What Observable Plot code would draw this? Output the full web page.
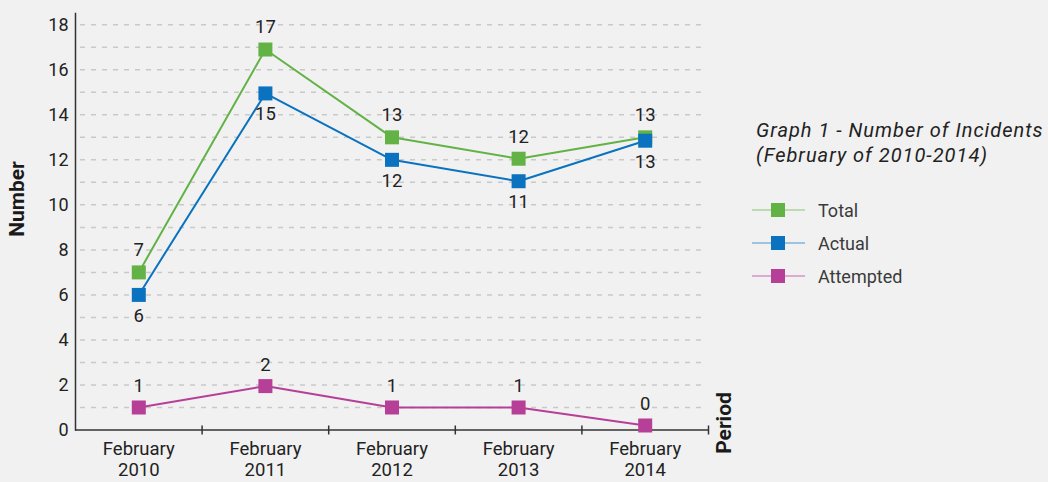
<!DOCTYPE html>
<html><head><meta charset="utf-8">
<script src="https://cdn.jsdelivr.net/npm/d3@7"></script>
<script src="https://cdn.jsdelivr.net/npm/@observablehq/plot@0.6"></script>
<style>
body{margin:0;background:#f1f1f1;font-family:Roboto,"Noto Sans",sans-serif;}
#wrap{position:relative;width:1048px;height:482px;overflow:hidden;background:#f1f1f1;}
#chart{position:absolute;left:0;top:0;}
#title{position:absolute;left:756px;top:118px;font-size:20px;font-style:italic;line-height:25px;color:#222;white-space:nowrap;letter-spacing:1px;}
#legend{position:absolute;left:752px;top:193.5px;}
.row{display:flex;align-items:center;height:33px;font-size:18px;color:#3a3a3a;}
.row svg{margin-right:13px;}
.axt{position:absolute;font-weight:bold;font-size:21px;color:#1a1a1a;white-space:nowrap;transform:translate(-50%,-50%) rotate(-90deg);}
</style></head><body>
<div id="wrap">
<div id="chart"></div>
<div id="title">Graph 1 - Number of Incidents<br>(February of 2010-2014)</div>
<div id="legend"></div>
<div class="axt" style="left:16.5px;top:198.5px;">Number</div>
<div class="axt" style="left:724px;top:422.5px;">Period</div>
</div>
<script>
// ---- data ----
const periods = ["February 2010", "February 2011", "February 2012", "February 2013", "February 2014"];
const seriesNames = ["Total", "Actual", "Attempted"];
const total = [7, 16.9, 13, 12.05, 13];
const actual = [6, 14.95, 12, 11.05, 12.85];
const attempted = [1, 1.95, 1, 1, 0.2];
const yTicks = [0, 2, 4, 6, 8, 10, 12, 14, 16, 18];
const gridValues = [1, 2, 3, 4, 5, 6, 7, 8, 9, 10, 11, 12, 13, 14, 15, 16, 17, 18];

const colors = {Total: "#62b246", Actual: "#0a72bf", Attempted: "#b63f98"};
const legendLine = {Total: "#86c873", Actual: "#4a95d0", Attempted: "#c868ae"};
const series = [
  {name: "Total", values: total, labelDy: -22},
  {name: "Actual", values: actual, labelDy: 21},
  {name: "Attempted", values: attempted, labelDy: -21}
];

const idx = (d, i) => i;
const bounds = periods.map((p, i) => i + 0.5);

const lineMarks = series.map(s => Plot.line(s.values, {x: idx, y: d => d, stroke: colors[s.name], strokeWidth: 2}));
const dotMarks = series.map(s => Plot.dot(s.values, {x: idx, y: d => d, symbol: "square", r: 7.9, fill: colors[s.name]}));
const textMarks = series.map(s => Plot.text(s.values, {x: idx, y: d => d, text: d => String(Math.round(d)), dy: s.labelDy, fontSize: 18.5, fill: "#222"}));

const chart = Plot.plot({
  width: 1048,
  height: 482,
  marginLeft: 75,
  marginRight: 340,
  marginTop: 13,
  marginBottom: 52.5,
  style: {background: "transparent", fontFamily: "Roboto, 'Noto Sans', sans-serif", color: "#222", overflow: "visible"},
  x: {domain: [-0.5, periods.length - 0.5]},
  y: {domain: [0, 18.5]},
  marks: [
    Plot.ruleY(gridValues, {stroke: "#c9c9c9", strokeWidth: 1.5, strokeDasharray: "5,6", insetLeft: 5, insetRight: 5}),
    Plot.frame({anchor: "left", stroke: "#333", strokeWidth: 1.5}),
    Plot.ruleY([0], {stroke: "#333", strokeWidth: 1.5}),
    Plot.ruleX(bounds, {x: d => d, y1: 0, y2: 0, insetTop: -4, insetBottom: -5, stroke: "#333", strokeWidth: 1.5}),
    Plot.axisY(yTicks, {tickSize: 0, tickPadding: 7, fontSize: 18, label: null, fill: "#222"}),
    Plot.axisX(periods.map(idx), {tickSize: 0, tickPadding: 10, fontSize: 18.5, lineHeight: 1.15, label: null, fill: "#222",
      tickFormat: i => periods[i].replace(" ", "\n")}),
    ...lineMarks,
    ...dotMarks,
    ...textMarks
  ]
});
document.getElementById("chart").append(chart);

const legend = document.getElementById("legend");
seriesNames.forEach(n => {
  const row = document.createElement("div");
  row.className = "row";
  row.innerHTML = `<svg width="53" height="14"><line x1="0" x2="53" y1="7" y2="7" stroke="${legendLine[n]}" stroke-width="1.2"/><rect x="19" y="0" width="14" height="14" fill="${colors[n]}"/></svg><span>${n}</span>`;
  legend.append(row);
});
</script>
</body></html>
